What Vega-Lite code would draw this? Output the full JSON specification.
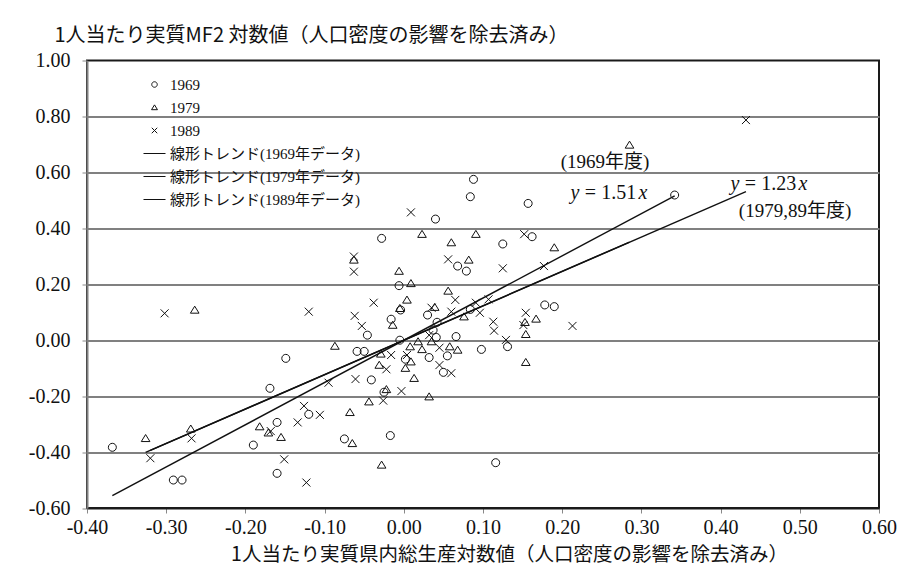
{
  "$schema": "https://vega.github.io/schema/vega-lite/v6.json",
  "width": 792,
  "height": 447.5,
  "autosize": {"type": "none"},
  "padding": {"left": 87, "top": 60.5, "right": 27, "bottom": 63},
  "background": "white",
  "config": {
    "view": {"stroke": "#1a1a1a", "strokeWidth": 2},
    "axis": {"labelColor": "#111", "titleColor": "#111"}
  },
  "datasets": {
    "pts": [
      {"year": "1969", "x": 0.040, "y": 0.433},
      {"year": "1969", "x": 0.088, "y": 0.575},
      {"year": "1969", "x": 0.084, "y": 0.513},
      {"year": "1969", "x": 0.157, "y": 0.489},
      {"year": "1969", "x": 0.342, "y": 0.519},
      {"year": "1969", "x": 0.125, "y": 0.344},
      {"year": "1969", "x": 0.162, "y": 0.370},
      {"year": "1969", "x": 0.068, "y": 0.265},
      {"year": "1969", "x": 0.079, "y": 0.247},
      {"year": "1969", "x": -0.006, "y": 0.195},
      {"year": "1969", "x": 0.030, "y": 0.090},
      {"year": "1969", "x": 0.084, "y": 0.110},
      {"year": "1969", "x": 0.178, "y": 0.126},
      {"year": "1969", "x": 0.190, "y": 0.120},
      {"year": "1969", "x": 0.131, "y": -0.023},
      {"year": "1969", "x": 0.066, "y": 0.013},
      {"year": "1969", "x": 0.042, "y": 0.064},
      {"year": "1969", "x": 0.037, "y": 0.036},
      {"year": "1969", "x": 0.032, "y": -0.062},
      {"year": "1969", "x": 0.055, "y": -0.056},
      {"year": "1969", "x": 0.098, "y": -0.033},
      {"year": "1969", "x": 0.041, "y": 0.010},
      {"year": "1969", "x": 0.002, "y": -0.068},
      {"year": "1969", "x": 0.050, "y": -0.115},
      {"year": "1969", "x": 0.116, "y": -0.438},
      {"year": "1969", "x": -0.028, "y": 0.364},
      {"year": "1969", "x": -0.004, "y": 0.108},
      {"year": "1969", "x": -0.016, "y": 0.075},
      {"year": "1969", "x": -0.046, "y": 0.018},
      {"year": "1969", "x": -0.059, "y": -0.040},
      {"year": "1969", "x": -0.050, "y": -0.040},
      {"year": "1969", "x": -0.149, "y": -0.065},
      {"year": "1969", "x": -0.005, "y": 0.000},
      {"year": "1969", "x": -0.041, "y": -0.142},
      {"year": "1969", "x": -0.169, "y": -0.172},
      {"year": "1969", "x": -0.025, "y": -0.186},
      {"year": "1969", "x": -0.120, "y": -0.265},
      {"year": "1969", "x": -0.160, "y": -0.294},
      {"year": "1969", "x": -0.190, "y": -0.375},
      {"year": "1969", "x": -0.075, "y": -0.353},
      {"year": "1969", "x": -0.017, "y": -0.341},
      {"year": "1969", "x": -0.160, "y": -0.476},
      {"year": "1969", "x": -0.291, "y": -0.500},
      {"year": "1969", "x": -0.280, "y": -0.500},
      {"year": "1969", "x": -0.368, "y": -0.383},
      {"year": "1979", "x": 0.285, "y": 0.698},
      {"year": "1979", "x": 0.023, "y": 0.379},
      {"year": "1979", "x": 0.060, "y": 0.349},
      {"year": "1979", "x": 0.091, "y": 0.379},
      {"year": "1979", "x": 0.190, "y": 0.331},
      {"year": "1979", "x": 0.082, "y": 0.287},
      {"year": "1979", "x": -0.006, "y": 0.247},
      {"year": "1979", "x": 0.009, "y": 0.203},
      {"year": "1979", "x": 0.056, "y": 0.176},
      {"year": "1979", "x": 0.004, "y": 0.144},
      {"year": "1979", "x": 0.039, "y": 0.118},
      {"year": "1979", "x": 0.076, "y": 0.084},
      {"year": "1979", "x": 0.153, "y": 0.064},
      {"year": "1979", "x": 0.167, "y": 0.076},
      {"year": "1979", "x": 0.154, "y": 0.021},
      {"year": "1979", "x": 0.008, "y": -0.023},
      {"year": "1979", "x": 0.018, "y": -0.005},
      {"year": "1979", "x": 0.023, "y": -0.033},
      {"year": "1979", "x": 0.035, "y": -0.005},
      {"year": "1979", "x": 0.058, "y": -0.023},
      {"year": "1979", "x": 0.068, "y": -0.035},
      {"year": "1979", "x": 0.009, "y": -0.077},
      {"year": "1979", "x": 0.002, "y": -0.100},
      {"year": "1979", "x": 0.013, "y": -0.136},
      {"year": "1979", "x": 0.154, "y": -0.079},
      {"year": "1979", "x": 0.032, "y": -0.202},
      {"year": "1979", "x": -0.063, "y": 0.287},
      {"year": "1979", "x": -0.264, "y": 0.108},
      {"year": "1979", "x": -0.005, "y": 0.114},
      {"year": "1979", "x": -0.014, "y": 0.054},
      {"year": "1979", "x": -0.087, "y": -0.021},
      {"year": "1979", "x": -0.029, "y": -0.049},
      {"year": "1979", "x": -0.031, "y": -0.089},
      {"year": "1979", "x": -0.022, "y": -0.176},
      {"year": "1979", "x": -0.044, "y": -0.220},
      {"year": "1979", "x": -0.068, "y": -0.258},
      {"year": "1979", "x": -0.182, "y": -0.309},
      {"year": "1979", "x": -0.171, "y": -0.331},
      {"year": "1979", "x": -0.155, "y": -0.347},
      {"year": "1979", "x": -0.065, "y": -0.369},
      {"year": "1979", "x": -0.028, "y": -0.446},
      {"year": "1979", "x": -0.326, "y": -0.351},
      {"year": "1979", "x": -0.269, "y": -0.317},
      {"year": "1989", "x": 0.432, "y": 0.787},
      {"year": "1989", "x": 0.009, "y": 0.457},
      {"year": "1989", "x": 0.152, "y": 0.379},
      {"year": "1989", "x": 0.056, "y": 0.289},
      {"year": "1989", "x": 0.125, "y": 0.257},
      {"year": "1989", "x": 0.177, "y": 0.265},
      {"year": "1989", "x": 0.065, "y": 0.144},
      {"year": "1989", "x": 0.035, "y": 0.116},
      {"year": "1989", "x": 0.060, "y": 0.102},
      {"year": "1989", "x": 0.091, "y": 0.134},
      {"year": "1989", "x": 0.107, "y": 0.146},
      {"year": "1989", "x": 0.096, "y": 0.098},
      {"year": "1989", "x": 0.154, "y": 0.098},
      {"year": "1989", "x": 0.113, "y": 0.066},
      {"year": "1989", "x": 0.151, "y": 0.054},
      {"year": "1989", "x": 0.213, "y": 0.051},
      {"year": "1989", "x": 0.114, "y": 0.034},
      {"year": "1989", "x": 0.129, "y": 0.001},
      {"year": "1989", "x": 0.032, "y": 0.018},
      {"year": "1989", "x": 0.045, "y": -0.027},
      {"year": "1989", "x": 0.004, "y": -0.053},
      {"year": "1989", "x": 0.045, "y": -0.089},
      {"year": "1989", "x": 0.060, "y": -0.118},
      {"year": "1989", "x": -0.003, "y": -0.182},
      {"year": "1989", "x": -0.063, "y": 0.299},
      {"year": "1989", "x": -0.063, "y": 0.245},
      {"year": "1989", "x": -0.302, "y": 0.096},
      {"year": "1989", "x": -0.120, "y": 0.102},
      {"year": "1989", "x": -0.038, "y": 0.134},
      {"year": "1989", "x": -0.062, "y": 0.087},
      {"year": "1989", "x": -0.053, "y": 0.051},
      {"year": "1989", "x": -0.016, "y": -0.053},
      {"year": "1989", "x": -0.022, "y": -0.104},
      {"year": "1989", "x": -0.095, "y": -0.152},
      {"year": "1989", "x": -0.061, "y": -0.139},
      {"year": "1989", "x": -0.026, "y": -0.216},
      {"year": "1989", "x": -0.126, "y": -0.235},
      {"year": "1989", "x": -0.106, "y": -0.267},
      {"year": "1989", "x": -0.134, "y": -0.294},
      {"year": "1989", "x": -0.168, "y": -0.325},
      {"year": "1989", "x": -0.151, "y": -0.426},
      {"year": "1989", "x": -0.123, "y": -0.509},
      {"year": "1989", "x": -0.320, "y": -0.422},
      {"year": "1989", "x": -0.268, "y": -0.351}
    ],
    "trend": [
      {"series": "線形トレンド(1969年データ)", "x": -0.368, "y": -0.556},
      {"series": "線形トレンド(1969年データ)", "x": 0.342, "y": 0.516},
      {"series": "線形トレンド(1979年データ)", "x": -0.326, "y": -0.401},
      {"series": "線形トレンド(1979年データ)", "x": 0.285, "y": 0.351},
      {"series": "線形トレンド(1989年データ)", "x": -0.320, "y": -0.394},
      {"series": "線形トレンド(1989年データ)", "x": 0.432, "y": 0.531}
    ],
    "equations": [
      {"x": 0.261, "y": 0.525, "mid": "= 1.51"},
      {"x": 0.463, "y": 0.557, "mid": "= 1.23"}
    ],
    "notes": [
      {"x": 0.254, "y": 0.638, "label": "(1969年度)", "side": "center"},
      {"x": 0.423, "y": 0.462, "label": "(1979,89年度)", "side": "left"}
    ]
  },
  "encoding": {
    "x": {
      "field": "x",
      "type": "quantitative",
      "scale": {"domain": [-0.4, 0.6], "nice": false, "zero": false},
      "axis": {
        "title": "1人当たり実質県内総生産対数値（人口密度の影響を除去済み）",
        "titleFont": "Noto Sans CJK JP",
        "titleFontSize": 19.5,
        "titleFontWeight": "normal",
        "titleX": 422,
        "titleY": 52,
        "titleBaseline": "alphabetic",
        "values": [-0.4, -0.3, -0.2, -0.1, 0, 0.1, 0.2, 0.3, 0.4, 0.5, 0.6],
        "labelExpr": "replace(format(datum.value, '.2f'), '\u2212', '-')",
        "labelFont": "Liberation Serif",
        "labelFontSize": 20,
        "labelPadding": 4,
        "labelFlush": false,
        "labelOverlap": false,
        "tickSize": 5,
        "tickColor": "#888",
        "domainColor": "#1a1a1a",
        "domainWidth": 2,
        "grid": false
      }
    },
    "y": {
      "field": "y",
      "type": "quantitative",
      "scale": {"domain": [-0.6, 1.0], "nice": false, "zero": false},
      "axis": {
        "title": "1人当たり実質MF2 対数値（人口密度の影響を除去済み）",
        "titleFont": "Noto Sans CJK JP",
        "titleFontSize": 20,
        "titleFontWeight": "normal",
        "titleAngle": 0,
        "titleAlign": "left",
        "titleBaseline": "alphabetic",
        "titleX": -33,
        "titleY": -19.5,
        "values": [-0.6, -0.4, -0.2, 0, 0.2, 0.4, 0.6, 0.8, 1.0],
        "labelExpr": "replace(format(datum.value, '.2f'), '\u2212', '-')",
        "labelFont": "Liberation Serif",
        "labelFontSize": 20,
        "labelPadding": 12,
        "labelFlush": false,
        "labelOverlap": false,
        "tickSize": 5,
        "tickColor": "#888",
        "domainColor": "#808080",
        "domainWidth": 2,
        "grid": true,
        "gridColor": "#808080",
        "gridWidth": 2,
        "gridOpacity": {"condition": {"test": "datum.value > 0.99 || datum.value < -0.59", "value": 0}, "value": 1}
      }
    }
  },
  "layer": [
    {
      "data": {"values": [{"x": 0}]},
      "mark": {"type": "rule", "color": "#333", "strokeWidth": 1.2},
      "encoding": {"y": {"datum": -0.6}, "y2": {"datum": 1.0}}
    },
    {
      "data": {"name": "trend"},
      "mark": {"type": "line", "color": "#111", "strokeWidth": 1.4},
      "encoding": {"detail": {"field": "series"}}
    },
    {
      "data": {"name": "pts"},
      "mark": {"type": "point", "filled": false, "color": "#111", "strokeWidth": 1, "size": 1024, "opacity": 1},
      "encoding": {
        "shape": {
          "field": "year",
          "type": "nominal",
          "scale": {
            "domain": ["1969", "1979", "1989", "線形トレンド(1969年データ)", "線形トレンド(1979年データ)", "線形トレンド(1989年データ)"],
            "range": [
              "M-0.25,0A0.25,0.25 0 1,0 0.25,0A0.25,0.25 0 1,0 -0.25,0Z",
              "M0,-0.24L0.27,0.2L-0.27,0.2Z",
              "M-0.25,-0.25L0.25,0.25M-0.25,0.25L0.25,-0.25",
              "M-1,0H1",
              "M-1,0H1",
              "M-1,0H1"
            ]
          },
          "legend": {
            "title": null,
            "orient": "none",
            "legendX": 56,
            "legendY": 12.5,
            "padding": 0,
            "symbolSize": 484,
            "symbolStrokeWidth": 1,
            "symbolStrokeColor": "#111",
            "symbolFillColor": "transparent",
            "labelFont": "Liberation Serif, Noto Sans CJK JP",
            "labelFontSize": 15,
            "labelColor": "#111",
            "labelOffset": 4,
            "labelLimit": 400,
            "rowPadding": 3
          }
        }
      }
    },
    {
      "data": {"name": "equations"},
      "mark": {"type": "text", "font": "Liberation Serif", "fontSize": 20, "color": "#111", "align": "center", "baseline": "middle"},
      "encoding": {"text": {"field": "mid"}}
    },
    {
      "data": {"name": "equations"},
      "mark": {"type": "text", "font": "Liberation Serif", "fontSize": 20, "fontStyle": "italic", "color": "#111", "align": "right", "baseline": "middle", "dx": -31},
      "encoding": {"text": {"value": "y"}}
    },
    {
      "data": {"name": "equations"},
      "mark": {"type": "text", "font": "Liberation Serif", "fontSize": 20, "fontStyle": "italic", "color": "#111", "align": "left", "baseline": "middle", "dx": 28},
      "encoding": {"text": {"value": "x"}}
    },
    {
      "data": {"name": "notes"},
      "transform": [{"filter": "datum.side == 'center'"}],
      "mark": {"type": "text", "font": "Liberation Serif, Noto Sans CJK JP", "fontSize": 19, "color": "#111", "align": "center", "baseline": "middle"},
      "encoding": {"text": {"field": "label"}}
    },
    {
      "data": {"name": "notes"},
      "transform": [{"filter": "datum.side == 'left'"}],
      "mark": {"type": "text", "font": "Liberation Serif, Noto Sans CJK JP", "fontSize": 19, "color": "#111", "align": "left", "baseline": "middle"},
      "encoding": {"text": {"field": "label"}}
    }
  ]
}
